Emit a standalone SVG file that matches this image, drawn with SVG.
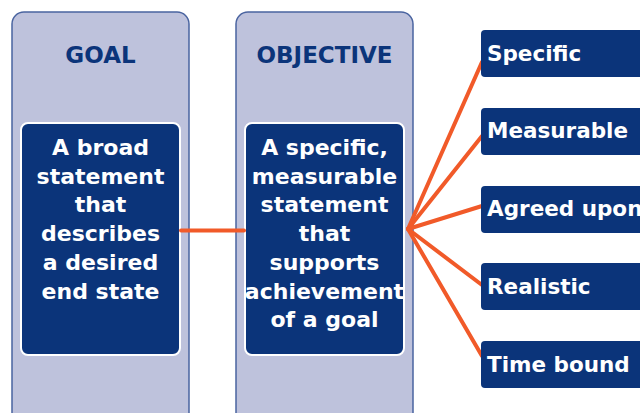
<svg xmlns="http://www.w3.org/2000/svg" width="640" height="413" viewBox="0 0 640 413">
<style>
.col{fill:#bec2dc;stroke:#4a64a0;stroke-width:1.5}
.inner{fill:#0b347a;stroke:#ffffff;stroke-width:2}
.lbl{fill:#0b347a;stroke:none}
.hd{font-family:"DejaVu Sans","Liberation Sans",sans-serif;font-weight:bold;font-size:23px;fill:#0b347a;text-anchor:middle}
.bt{font-family:"DejaVu Sans","Liberation Sans",sans-serif;font-weight:bold;font-size:22px;fill:#ffffff;text-anchor:middle}
.lt{font-family:"DejaVu Sans","Liberation Sans",sans-serif;font-weight:bold;font-size:21.5px;fill:#ffffff}
.con{stroke:#f15a29;stroke-width:4;fill:none;stroke-linecap:round}
</style>
<rect width="640" height="413" fill="#ffffff"/>
<g id="goal">
<rect class="col" x="12" y="12" width="177" height="430" rx="12"/>
<text class="hd" x="100.5" y="63">GOAL</text>
<rect class="inner" x="21" y="123" width="159" height="232" rx="7"/>
<text class="bt" x="100.5" y="155">A broad</text>
<text class="bt" x="100.5" y="183.7">statement</text>
<text class="bt" x="100.5" y="212.4">that</text>
<text class="bt" x="100.5" y="241.1">describes</text>
<text class="bt" x="100.5" y="269.8">a desired</text>
<text class="bt" x="100.5" y="298.5">end state</text>
</g>
<g id="objective">
<rect class="col" x="236" y="12" width="177" height="430" rx="12"/>
<text class="hd" x="324.5" y="63">OBJECTIVE</text>
<rect class="inner" x="245" y="123" width="159" height="232" rx="7"/>
<text class="bt" x="324.5" y="155">A specific,</text>
<text class="bt" x="324.5" y="183.7">measurable</text>
<text class="bt" x="324.5" y="212.4">statement</text>
<text class="bt" x="324.5" y="241.1">that</text>
<text class="bt" x="324.5" y="269.8">supports</text>
<text class="bt" x="324.5" y="298.5">achievement</text>
<text class="bt" x="324.5" y="327.2">of a goal</text>
</g>
<g id="connectors">
<line class="con" x1="181" y1="230.5" x2="244" y2="230.5"/>
<line class="con" x1="408" y1="229" x2="482" y2="62"/>
<line class="con" x1="408" y1="229" x2="482" y2="136"/>
<line class="con" x1="408" y1="229" x2="482" y2="206"/>
<line class="con" x1="408" y1="229" x2="482" y2="285"/>
<line class="con" x1="408" y1="229" x2="482" y2="356"/>
</g>
<g id="specific">
<rect class="lbl" x="481" y="30" width="170" height="47" rx="4"/>
<text class="lt" x="487" y="61">Specific</text>
</g>
<g id="measurable">
<rect class="lbl" x="481" y="108" width="170" height="47" rx="4"/>
<text class="lt" x="487" y="138">Measurable</text>
</g>
<g id="agreed-upon">
<rect class="lbl" x="481" y="186" width="170" height="47" rx="4"/>
<text class="lt" x="487" y="216">Agreed upon</text>
</g>
<g id="realistic">
<rect class="lbl" x="481" y="263" width="170" height="47" rx="4"/>
<text class="lt" x="487" y="294">Realistic</text>
</g>
<g id="time-bound">
<rect class="lbl" x="481" y="341" width="170" height="47" rx="4"/>
<text class="lt" x="487" y="372">Time bound</text>
</g>
</svg>
